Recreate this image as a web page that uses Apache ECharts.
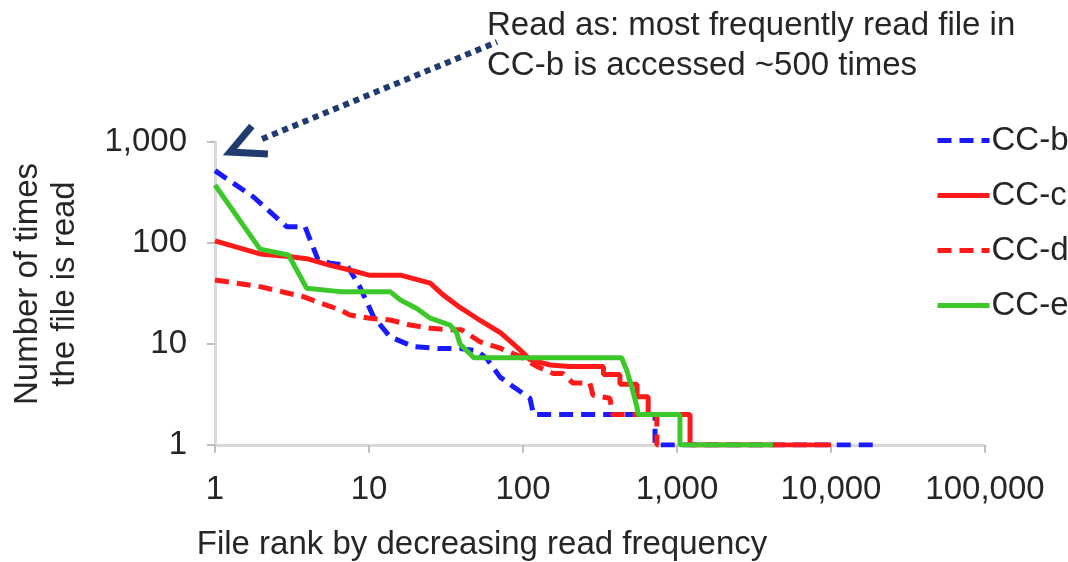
<!DOCTYPE html>
<html>
<head>
<meta charset="utf-8">
<script src="https://cdn.jsdelivr.net/npm/echarts@6/dist/echarts.min.js"></script>
<style>
html,body{margin:0;padding:0;background:#fff;}
#chart{width:1068px;height:562px;}
</style>
</head>
<body>
<div id="chart"></div>
<script>
// ---- data (rank, number of reads) ----
const seriesNames = ['CC-b', 'CC-c', 'CC-d', 'CC-e'];

const bRank  = [1, 1.77, 2.92, 3.84, 4.67, 5.6, 7.2, 8.7, 10.7, 13.7, 19.4, 29, 39, 50, 58, 71, 86, 111, 117, 720, 720, 19500];
const bReads = [520, 287, 145, 145, 68, 63, 60, 37, 18.6, 11.8, 9.4, 9, 9, 8.6, 7.2, 4.7, 3.8, 2.9, 2, 2, 1, 1];

const cRank  = [1, 1.96, 2.92, 3.94, 5.6, 7.5, 10, 16, 25, 30, 39, 53, 71, 96, 111, 150, 200, 333, 333, 426, 426, 550, 550, 650, 650, 1215, 1215, 10000];
const cReads = [105, 78, 74, 70, 60, 54, 48, 48, 40, 31, 23, 17, 13, 8.7, 7, 6.2, 6, 6, 5, 5, 4, 4, 3, 3, 2, 2, 1, 1];

const dRank  = [1, 1.96, 3.74, 6.5, 7.5, 10.1, 13.7, 18.5, 25, 33.6, 40, 52.7, 71, 96, 123, 157, 182, 211, 272, 285, 367, 382, 740, 740, 760];
const dReads = [43, 37, 29.4, 21.7, 19.4, 18, 17.3, 15.4, 14.3, 13.8, 13.8, 10.5, 9.1, 7.5, 6, 5.1, 5.1, 4.1, 4.1, 3.1, 2.9, 2, 2, 1, 1];

const eRank  = [1, 1.96, 3, 3.94, 6.5, 13.7, 16, 20.4, 25, 33.6, 37, 39, 48, 437, 471, 507, 549, 560, 1045, 1045, 4200];
const eReads = [375, 87, 76, 35.6, 33, 33, 27.3, 22.5, 18, 15.4, 13, 10, 7.3, 7.3, 5.5, 3.8, 2.4, 2, 2, 1, 1];

const xTicks = [1, 10, 100, 1000, 10000, 100000];
const yTicks = [1, 10, 100, 1000];

const annotationLines = ['Read as: most frequently read file in', 'CC-b is accessed ~500 times'];
const xTitle = 'File rank by decreasing read frequency';
const yTitle = 'Number of times\nthe file is read';

// ---- build ----
const zip = (a, b) => a.map((v, i) => [v, b[i]]);
const fmt = v => Number(v).toLocaleString('en-US');
const FONT = 'Liberation Sans, Arial, sans-serif';
const FS = 33;

const chart = echarts.init(document.getElementById('chart'), null, {renderer: 'canvas'});

const styles = [
  {color: '#1a1aff', type: [14, 8]},
  {color: '#ff1a1a', type: 'solid'},
  {color: '#ff1a1a', type: [14, 8]},
  {color: '#3cc828', type: 'solid'}
];
const datas = [zip(bRank, bReads), zip(cRank, cReads), zip(dRank, dReads), zip(eRank, eReads)];

const series = seriesNames.map((n, i) => ({
  name: n,
  type: 'line',
  data: datas[i],
  symbol: 'none',
  smooth: false,
  z: 2 + i,
  itemStyle: {color: styles[i].color},
  lineStyle: {color: styles[i].color, width: 5, type: styles[i].type},
  animation: false
}));

const navy = '#1f3b6f';
const tip = [230, 152];
const armA = [tip[0] + 34 * Math.cos(-50 * Math.PI / 180), tip[1] + 34 * Math.sin(-50 * Math.PI / 180)];
const armB = [tip[0] + 38 * Math.cos(3 * Math.PI / 180), tip[1] + 38 * Math.sin(3 * Math.PI / 180)];

chart.setOption({
  animation: false,
  backgroundColor: '#ffffff',
  grid: {left: 215, right: 83, top: 142, bottom: 117, containLabel: false},
  xAxis: {
    type: 'log', logBase: 10, min: 1, max: 100000,
    axisLine: {show: true, lineStyle: {color: '#d9d9d9', width: 3}},
    axisTick: {show: true, length: 8, lineStyle: {color: '#bfbfbf', width: 2}},
    minorTick: {show: false},
    splitLine: {show: false},
    axisLabel: {
      color: '#262626', fontFamily: FONT, fontSize: FS, margin: 28,
      formatter: v => xTicks.includes(Math.round(v)) ? fmt(Math.round(v)) : ''
    }
  },
  yAxis: {
    type: 'log', logBase: 10, min: 1, max: 1000,
    axisLine: {show: true, lineStyle: {color: '#d9d9d9', width: 3}},
    axisTick: {show: true, length: 8, lineStyle: {color: '#bfbfbf', width: 2}},
    splitLine: {show: false},
    axisLabel: {
      color: '#262626', fontFamily: FONT, fontSize: FS, margin: 28,
      formatter: v => yTicks.includes(Math.round(v)) ? fmt(Math.round(v)) : ''
    }
  },
  legend: {
    orient: 'vertical',
    left: 930, top: 119,
    itemWidth: 52, itemHeight: 14, itemGap: 22,
    itemStyle: {opacity: 0},
    lineStyle: {width: 5},
    textStyle: {color: '#262626', fontFamily: FONT, fontSize: FS, lineHeight: 33, padding: [0, 0, 0, -3]},
    data: seriesNames
  },
  graphic: [
    {
      type: 'text', left: 487, top: 6,
      style: {text: annotationLines.join('\n'), font: FS + 'px ' + FONT, fill: '#262626', lineHeight: 40}
    },
    {
      type: 'text', x: 482, y: 545,
      style: {text: xTitle, font: FS + 'px ' + FONT, fill: '#262626', align: 'center', verticalAlign: 'middle'}
    },
    {
      type: 'text', x: 46, y: 284, rotation: Math.PI / 2,
      style: {text: yTitle, font: FS + 'px ' + FONT, fill: '#262626', align: 'center', verticalAlign: 'middle', lineHeight: 37}
    },
    {
      type: 'line',
      shape: {x1: 262, y1: 139, x2: 497, y2: 42},
      style: {stroke: navy, lineWidth: 6, lineDash: [6, 5], lineCap: 'butt'}
    },
    {
      type: 'polyline',
      shape: {points: [armA, tip, armB]},
      style: {stroke: navy, lineWidth: 7, fill: null, lineJoin: 'miter'}
    }
  ],
  series: series
});
</script>
</body>
</html>
